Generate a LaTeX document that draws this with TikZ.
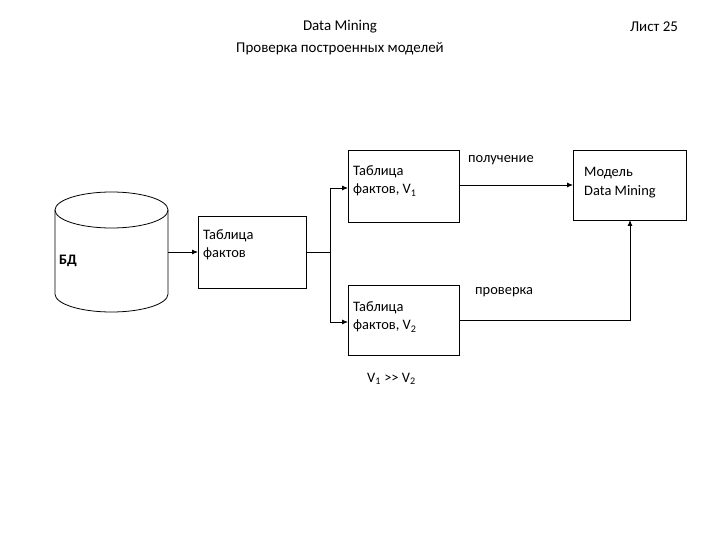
\documentclass[tikz,border=0pt]{standalone}
\usepackage{fontspec}
\setmainfont{Carlito}
\usetikzlibrary{arrows.meta}
\begin{document}
\begin{tikzpicture}[x=1bp,y=-1bp,
  box/.style={draw,thick,minimum width=0,inner sep=0},
  lbl/.style={font=\fontsize{14.5}{19}\selectfont,align=left,anchor=north west,inner sep=0},
  ar/.style={thick,-{Latex[length=6bp,width=5bp]}},
  ln/.style={thick}]
\useasboundingbox (0,0) rectangle (720,540);
\node[font=\fontsize{15}{22}\selectfont,align=center] (title) at (340,38) {Data Mining\\Проверка построенных моделей};
\node[font=\fontsize{15}{18}\selectfont] (sheet) at (654,27) {Лист 25};
% cylinder
\draw[thick] (55,210) -- (55,294) arc[start angle=180,end angle=0,x radius=56.5,y radius=18] -- (168,210);
\draw[thick] (111.5,210) ellipse[x radius=56.5,y radius=18];
\node[lbl,font=\bfseries\fontsize{14.5}{19}\selectfont] (bd) at (59,255) {БД};
\coordinate (cylr) at (168,252);
% boxes
\draw[box] (198,216) rectangle (306,288);
\node[lbl] (t) at (203,229) {Таблица\\фактов};
\coordinate (tl) at (198,252); \coordinate (tr) at (306,252);
\draw[box] (348,150) rectangle (459,222);
\node[lbl] (t1) at (353,165) {Таблица\\фактов, V\textsubscript{1}};
\coordinate (v1l) at (348,188); \coordinate (v1r) at (459,185);
\draw[box] (348,285) rectangle (459,355);
\node[lbl] (t2) at (353,301) {Таблица\\фактов, V\textsubscript{2}};
\coordinate (v2l) at (348,322); \coordinate (v2r) at (459,320);
\draw[box] (573,150) rectangle (686,220);
\node[lbl] (m) at (584,167) {Модель\\Data Mining};
\coordinate (ml) at (573,185); \coordinate (mb) at (630,220);
\node[lbl] (v) at (367,373) {V\textsubscript{1} {>}{>} V\textsubscript{2}};
\node[lbl] (get) at (468,155) {получение};
\node[lbl] (chk) at (475,287) {проверка};
% connectors
\draw[ar] (cylr) -- (tl);
\coordinate (br) at (330,252);
\draw[ln] (tr) -- (br);
\draw[ar] (br) |- (v1l);
\draw[ar] (br) |- (v2l);
\draw[ar] (v1r) -- (ml);
\draw[ar] (v2r) -| (mb);
\end{tikzpicture}
\end{document}
